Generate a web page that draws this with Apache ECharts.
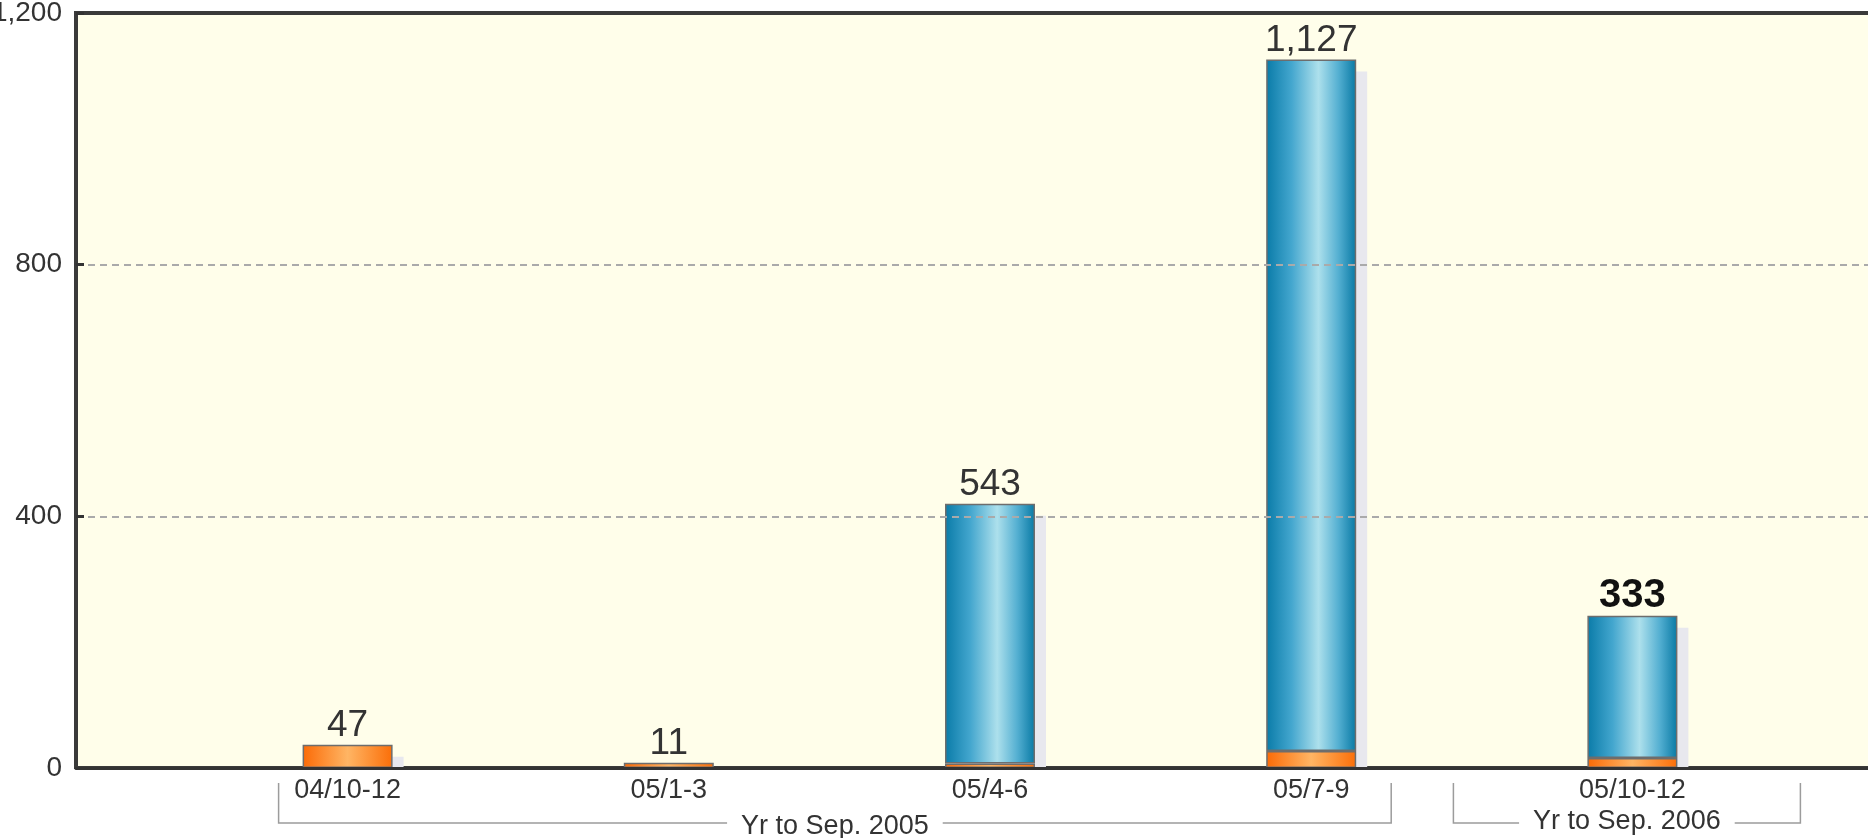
<!DOCTYPE html>
<html>
<head>
<meta charset="utf-8">
<title>Quarterly bars</title>
<script src="https://cdn.jsdelivr.net/npm/echarts@6/dist/echarts.min.js"></script>
<style>
html, body { margin: 0; padding: 0; background: #fff; }
#bar { width: 1868px; height: 838px; }
</style>
</head>
<body>
<div id="bar"></div>
<script>
// data (bar heights as drawn, labels as printed)
var categories = ['04/10-12', '05/1-3', '05/4-6', '05/7-9', '05/10-12'];
var orangeValues = [37, 8.5, 7, 27, 16];
var blueValues = [null, null, 413, 1099, 226];
var barLabels = ['47', '11', '543', '1,127', '333'];
var yTicks = [0, 400, 800, 1200];
var groupNames = ['Yr to Sep. 2005', 'Yr to Sep. 2006'];
var groupFrom = [0, 4];
var groupTo = [3, 4];

var FONT = '"Liberation Sans", Arial, Helvetica, sans-serif';

var chart = echarts.init(document.getElementById('bar'));

var blueFill = {
    type: 'linear', x: 0, y: 0, x2: 1, y2: 0,
    colorStops: [
        { offset: 0, color: '#0a7ba8' },
        { offset: 0.28, color: '#43a6ce' },
        { offset: 0.58, color: '#ade0ec' },
        { offset: 0.8, color: '#55b0d2' },
        { offset: 1, color: '#0879a4' }
    ]
};
var orangeFill = {
    type: 'linear', x: 0, y: 0, x2: 1, y2: 0,
    colorStops: [
        { offset: 0, color: '#fb6a06' },
        { offset: 0.5, color: '#ffb564' },
        { offset: 1, color: '#fb6e08' }
    ]
};

function labelFor(i) {
    var bold = barLabels[i] === '333';
    return {
        show: true,
        position: 'top',
        distance: 0,
        fontFamily: FONT,
        fontSize: bold ? 40 : 37,
        fontWeight: bold ? 'bold' : 'normal',
        color: bold ? '#111' : '#333',
        formatter: function () { return barLabels[i]; }
    };
}

// label goes on whichever segment is on top of the stack
var orangeData = orangeValues.map(function (v, i) {
    var item = { value: v };
    if (blueValues[i] == null) item.label = labelFor(i);
    return item;
});
var blueData = blueValues.map(function (v, i) {
    var item = { value: v };
    if (v != null) item.label = labelFor(i);
    return item;
});

var hiddenY = { type: 'value', min: yTicks[0], max: yTicks[yTicks.length - 1], interval: 400, show: false };
var hiddenX = { type: 'category', data: categories, show: false };

chart.setOption({
    animation: false,
    grid: [
        // plot background + y axis
        { left: 76, top: 13, width: 1830, bottom: 70, show: true, outerBoundsMode: 'none',
          backgroundColor: '#fffeea', borderColor: '#3a3a3a', borderWidth: 4 },
        // bars
        { left: 187, top: 13, width: 1606, bottom: 70, outerBoundsMode: 'none' },
        // drop shadow, same scales shifted right/down
        { left: 198, top: 25, width: 1606, bottom: 58, outerBoundsMode: 'none' }
    ],
    xAxis: [
        { gridIndex: 0, type: 'category', data: [''], z: 10,
          axisLine: { show: true, lineStyle: { color: '#333', width: 3 } },
          axisTick: { show: false }, axisLabel: { show: false }, splitLine: { show: false } },
        { gridIndex: 1, type: 'category', data: categories, z: 10,
          axisLine: { show: false }, axisTick: { show: false },
          axisLabel: { interval: 0, margin: 9, color: '#333', fontSize: 27, fontFamily: FONT } },
        Object.assign({ gridIndex: 2 }, hiddenX)
    ],
    yAxis: [
        { gridIndex: 0, type: 'value', min: yTicks[0], max: yTicks[yTicks.length - 1], interval: 400, z: 10,
          axisLine: { show: false },
          axisTick: { show: true, inside: true, length: 8, lineStyle: { color: '#333', width: 3 } },
          axisLabel: { margin: 14, color: '#333', fontSize: 28, fontFamily: FONT,
                       formatter: function (v) { return v.toLocaleString('en-US'); } },
          splitLine: { show: true, showMinLine: false, showMaxLine: false,
                       lineStyle: { color: '#aaaaaa', width: 2, type: [7, 5] } } },
        Object.assign({ gridIndex: 1 }, hiddenY),
        Object.assign({ gridIndex: 2 }, hiddenY)
    ],
    series: [
        { name: 'orange', type: 'bar', stack: 'q', xAxisIndex: 1, yAxisIndex: 1, z: 3,
          barWidth: 90, data: orangeData,
          itemStyle: { color: orangeFill, borderColor: '#6d6d6d', borderWidth: 1.5 } },
        { name: 'blue', type: 'bar', stack: 'q', xAxisIndex: 1, yAxisIndex: 1, z: 2,
          barWidth: 90, data: blueData,
          itemStyle: { color: blueFill, borderColor: '#6d6d6d', borderWidth: 1.5 } },
        { name: 'shadowOrange', type: 'bar', stack: 's', xAxisIndex: 2, yAxisIndex: 2, z: 1,
          barWidth: 90, data: orangeValues, silent: true, itemStyle: { color: '#e8e8ee' } },
        { name: 'shadowBlue', type: 'bar', stack: 's', xAxisIndex: 2, yAxisIndex: 2, z: 1,
          barWidth: 90, data: blueValues, silent: true, itemStyle: { color: '#e8e8ee' } }
    ]
});

// group brackets under the category labels
var centers = categories.map(function (c) {
    return chart.convertToPixel({ xAxisIndex: 1 }, c);
});
var graphics = [
    // white strip hides the shadow below the x axis
    { type: 'rect', z: 5, shape: { x: 0, y: 769, width: 1868, height: 69 }, style: { fill: '#fff' } }
];
var pads = [[69, 80], [179, 168]];
var textY = [827, 822];
groupNames.forEach(function (name, g) {
    var x1 = centers[groupFrom[g]] - pads[g][0];
    var x2 = centers[groupTo[g]] + pads[g][1];
    graphics.push({
        type: 'polyline', z: 11,
        shape: { points: [[x1, 783], [x1, 823], [x2, 823], [x2, 783]] },
        style: { stroke: '#9c9c9c', lineWidth: 1.5, fill: null }
    });
    graphics.push({
        type: 'text', z: 12, x: (x1 + x2) / 2, y: textY[g],
        style: {
            text: name, fill: '#333', font: '27px ' + FONT,
            align: 'center', verticalAlign: 'middle',
            textAlign: 'center', textVerticalAlign: 'middle',
            backgroundColor: '#fff', padding: [0, 14]
        }
    });
});
chart.setOption({ graphic: graphics });
</script>
</body>
</html>
